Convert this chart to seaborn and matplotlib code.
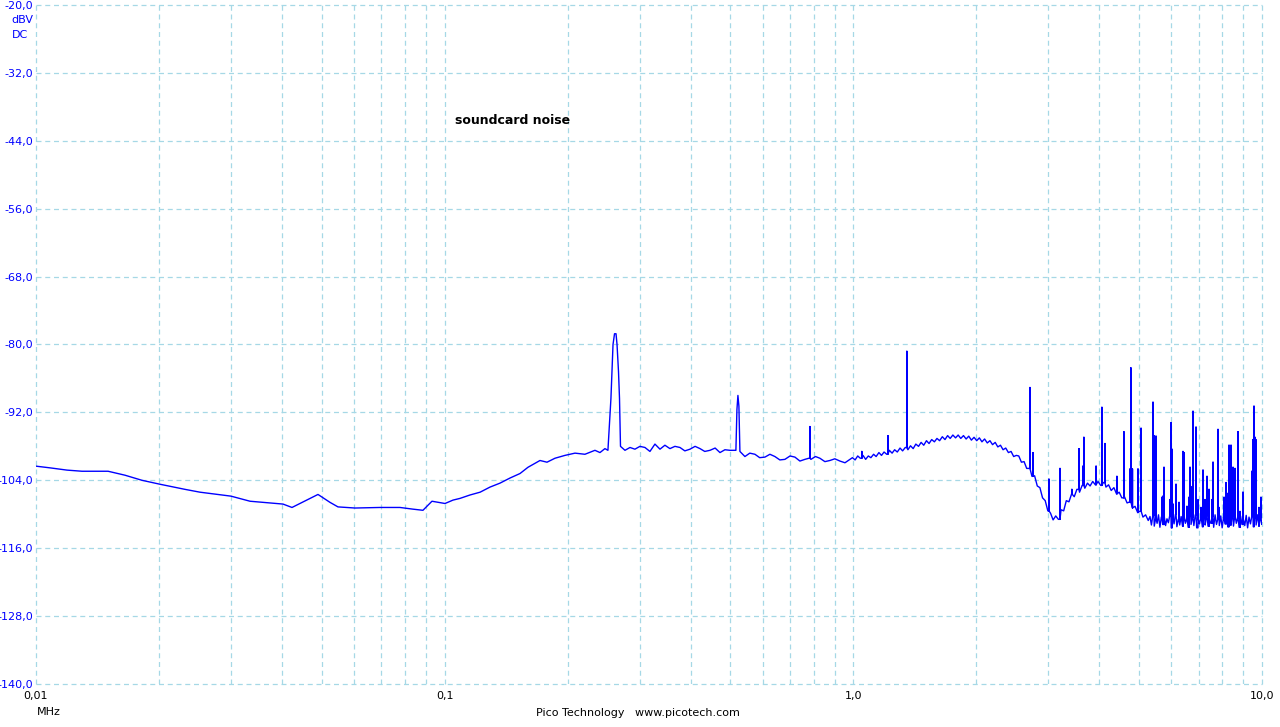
import numpy as np
import pandas as pd
import matplotlib
matplotlib.use("Agg")
import matplotlib.pyplot as plt
import seaborn as sns

# ---- data ----
# noise-floor trace, MHz / dBV
base_freq = [
    0.0100, 0.01082, 0.01191, 0.01296, 0.01501, 0.01651, 0.01817, 0.02012, 0.02315, 0.02519,
    0.0300, 0.0334, 0.04021, 0.04231, 0.04898, 0.05241, 0.05482, 0.06033, 0.06945, 0.07774,
    0.08366, 0.08849, 0.09309, 0.1002, 0.1048, 0.1090, 0.1153, 0.1221, 0.1291, 0.1366,
    0.1445, 0.1529, 0.1599, 0.1663, 0.1711, 0.1780, 0.1862, 0.1969, 0.2084, 0.2204,
    0.2332, 0.2399, 0.2467, 0.2509,
    0.2552, 0.2567, 0.2582, 0.2604, 0.2626, 0.2641, 0.2663, 0.2678, 0.2693,
    0.2762, 0.2841, 0.2921, 0.3005, 0.3091, 0.3179, 0.3270, 0.3364, 0.3459, 0.3558,
    0.3660, 0.3765, 0.3870, 0.3984, 0.4100, 0.4215, 0.4330, 0.4459, 0.4590, 0.4717,
    0.4850, 0.4991, 0.5160,
    0.5190, 0.5219, 0.5248, 0.5278,
    0.5429, 0.5580, 0.5744, 0.5900, 0.6077, 0.6250, 0.6428, 0.6610, 0.6801, 0.7000,
    0.7195, 0.7400, 0.7612, 0.7786, 0.7874, 0.8080, 0.8282, 0.8520, 0.8764, 0.9010,
    0.9273, 0.9540, 0.9811,
    0.995, 1.010, 1.025, 1.040, 1.056, 1.072, 1.088, 1.104, 1.121, 1.137, 1.155, 1.172,
    1.189, 1.207, 1.225, 1.244, 1.262, 1.281, 1.301, 1.320, 1.340, 1.360, 1.380, 1.401,
    1.422, 1.444, 1.465, 1.487, 1.510, 1.532, 1.555, 1.579, 1.602, 1.626, 1.651, 1.676,
    1.701, 1.726, 1.752, 1.779, 1.805, 1.832, 1.860, 1.888, 1.916, 1.945, 1.974, 2.004,
    2.034, 2.064, 2.095, 2.127, 2.159, 2.191, 2.224, 2.257, 2.291, 2.325, 2.360, 2.396,
    2.432, 2.468, 2.505,
    2.540, 2.578, 2.617, 2.656, 2.696, 2.736, 2.777, 2.819, 2.861, 2.904, 2.948, 2.992,
    3.037, 3.082, 3.128, 3.175, 3.223, 3.271, 3.320, 3.370, 3.421, 3.472, 3.524, 3.577,
    3.630, 3.685, 3.740, 3.796, 3.853, 3.911, 3.969, 4.029, 4.089, 4.151, 4.213, 4.276,
    4.341, 4.406, 4.472, 4.539, 4.607, 4.676, 4.746, 4.818, 4.890, 4.963, 5.038, 5.113,
    5.190, 5.268,
    5.320, 5.363, 5.406, 5.449, 5.493, 5.537, 5.581, 5.626, 5.671, 5.716, 5.762, 5.808,
    5.854, 5.901, 5.948, 5.996, 6.044, 6.092, 6.141, 6.190, 6.240, 6.290, 6.340, 6.391,
    6.442, 6.494, 6.546, 6.598, 6.651, 6.704, 6.758, 6.812, 6.866, 6.921, 6.977, 7.032,
    7.089, 7.146, 7.203, 7.260, 7.319, 7.377, 7.436, 7.496, 7.556, 7.616, 7.677, 7.738,
    7.800, 7.863, 7.926, 7.989, 8.053, 8.117, 8.182, 8.248, 8.314, 8.380, 8.447, 8.515,
    8.583, 8.652, 8.721, 8.791, 8.861, 8.932, 9.003, 9.075, 9.148, 9.221, 9.295, 9.369,
    9.444, 9.520, 9.596, 9.673, 9.750, 9.828, 9.907, 9.986, 10.0,
]
base_level = [
    -101.5, -101.8, -102.2, -102.4, -102.4, -103.1, -104.0, -104.7, -105.6, -106.1,
    -106.8, -107.7, -108.2, -108.8, -106.5, -107.9, -108.7, -108.9, -108.8, -108.8,
    -109.1, -109.3, -107.7, -108.1, -107.5, -107.2, -106.6, -106.1, -105.2, -104.5,
    -103.6, -102.8, -101.7, -101.0, -100.5, -100.8, -100.1, -99.6, -99.2, -99.4,
    -98.7, -99.1, -98.4, -98.7,
    -89.5, -84.8, -80.0, -78.1, -78.1, -80.0, -84.8, -89.5, -98.0,
    -98.7, -98.2, -98.5, -98.0, -98.2, -98.9, -97.6, -98.5, -97.8, -98.4,
    -98.0, -98.2, -98.8, -98.5, -98.0, -98.4, -98.9, -98.7, -98.3, -99.1,
    -98.6, -98.7, -98.7,
    -91.5, -89.0, -90.9, -98.9,
    -99.8, -99.2, -99.4, -100.0, -99.9, -99.4, -99.8, -100.4, -100.3, -99.7,
    -99.9, -100.6, -100.3, -100.1, -100.3, -99.8, -100.1, -100.7, -100.5, -100.2,
    -100.6, -100.9, -100.3,
    -100.0, -100.4, -99.7, -100.1, -99.6, -100.3, -99.7, -100.0, -99.4, -99.8, -99.1, -99.6,
    -99.0, -99.4, -98.7, -99.2, -98.6, -99.0, -98.3, -98.8, -98.2, -98.6, -97.9, -98.4,
    -97.6, -98.0, -97.3, -97.8, -97.0, -97.5, -96.8, -97.2, -96.6, -97.0, -96.3, -96.8,
    -96.1, -96.6, -96.0, -96.5, -96.0, -96.6, -96.1, -96.7, -96.2, -96.9, -96.4, -97.0,
    -96.5, -97.2, -96.7, -97.4, -97.0, -97.7, -97.3, -98.1, -97.8, -98.6, -98.3, -99.1,
    -98.9, -99.8, -99.6,
    -99.7, -100.8, -100.7, -101.9, -101.9, -103.3, -103.2, -105.0, -105.3, -107.1, -107.6, -109.4,
    -109.8, -111.0, -110.3, -110.9, -109.2, -109.4, -107.6, -107.8, -106.4, -106.9, -105.6, -106.1,
    -104.9, -105.4, -104.5, -105.0, -104.2, -104.8, -104.2, -104.9, -104.4, -105.2, -104.8, -105.8,
    -105.3, -106.4, -106.1, -107.1, -106.9, -108.0, -107.8, -108.9, -108.6, -109.7, -109.4, -110.5,
    -110.1, -111.1,
    -110.4, -111.9, -110.2, -112.1, -110.7, -111.6, -110.1, -112.3, -110.5, -111.8,
    -110.3, -112.0, -110.8, -111.5, -110.2, -112.4, -110.6, -111.7, -110.0, -112.2,
    -110.9, -111.9, -110.4, -112.1, -110.2, -111.6, -110.7, -112.3, -110.3, -111.8,
    -110.5, -112.0, -110.1, -112.4, -110.8, -111.7, -110.3, -112.2, -110.6, -111.9,
    -110.2, -112.1, -110.9, -111.6, -110.4, -112.3, -110.1, -111.8, -110.7, -112.0,
    -110.3, -112.4, -110.5, -111.7, -110.2, -112.2, -110.8, -111.9, -110.4, -112.1,
    -110.1, -111.6, -110.6, -112.3, -110.3, -111.8, -110.9, -112.0, -110.2, -112.4,
    -110.5, -111.7, -110.3, -112.2, -110.7, -111.9, -110.1, -112.1, -110.6, -111.8, -111.2,
]
# narrow spurs: frequency (MHz) and peak level (dBV)
spike_freq = [
    0.7830, 1.049, 1.215, 1.352, 2.705, 2.751, 3.011, 3.204, 3.426, 3.565, 3.646, 3.666,
    3.926, 4.058, 4.127, 4.416, 4.592, 4.753, 4.775, 4.820, 4.972, 5.058,
    5.411, 5.441, 5.503, 5.692, 5.725, 5.757, 5.954, 5.987, 6.020, 6.055, 6.160, 6.265,
    6.407, 6.444, 6.553, 6.628, 6.665, 6.703, 6.779, 6.895, 6.973, 7.092, 7.172, 7.253,
    7.336, 7.419, 7.545, 7.588, 7.805, 7.849, 8.074, 8.165, 8.257, 8.304, 8.398, 8.493,
    8.590, 8.736, 8.834, 8.985, 9.452, 9.506, 9.559, 9.613, 9.668, 9.832, 9.944,
]
spike_peak = [
    -94.5, -98.9, -96.1, -81.2, -87.6, -99.1, -103.8, -101.9, -105.6, -98.4, -101.5, -96.4,
    -101.5, -91.1, -97.5, -103.3, -95.4, -102.0, -84.1, -102.0, -102.0, -94.8,
    -90.2, -96.1, -96.2, -107.0, -106.8, -101.7, -107.4, -93.8, -98.5, -108.2, -104.7, -107.9,
    -98.9, -99.1, -108.6, -107.0, -101.7, -105.1, -91.8, -94.6, -107.4, -108.8, -102.2, -107.4,
    -103.3, -105.6, -107.4, -100.8, -95.0, -108.8, -107.0, -104.4, -106.3, -97.8, -97.8, -101.7,
    -101.9, -95.4, -109.5, -106.1, -102.4, -96.8, -90.9, -96.4, -96.8, -108.8, -107.0,
]

y_ticks = [-20, -32, -44, -56, -68, -80, -92, -104, -116, -128, -140]
x_ticks = [0.01, 0.1, 1.0, 10.0]
x_tick_labels = ["0,01", "0,1", "1,0", "10,0"]
x_minor = [m * d for d in (0.01, 0.1, 1.0) for m in range(2, 10)]

# ---- build the trace: baseline with spurs inserted as vertical strokes ----
bf = np.array(base_freq)
bl = np.array(base_level)
spk = {}
for f, p in sorted(zip(spike_freq, spike_peak)):
    idx = max(int(np.searchsorted(bf, f)) - 1, 0)
    spk.setdefault(idx, []).append((f, bl[idx], p))
seq = []
for i, (f, l) in enumerate(zip(bf, bl)):
    seq.append((f, l))
    for (sf, sb, sp) in spk.get(i, []):
        seq.append((sf, sb))
        seq.append((sf, sp))
        seq.append((sf, sb))
df = pd.DataFrame(seq, columns=["freq", "level"])

# ---- plot ----
sns.set_theme(style="white")
plt.rcParams["font.family"] = ["DejaVu Sans"]

fig = plt.figure(figsize=(12.8, 7.27), dpi=100)
ax = fig.add_axes([36 / 1280, 1 - 684 / 727, (1262 - 36) / 1280, (684 - 5) / 727])

grid_color = "#a6d8e6"
ax.set_xscale("log")
ax.set_xlim(0.01, 10)
ax.set_ylim(-140, -20)
ax.set_xticks(x_ticks)
ax.set_xticklabels(x_tick_labels)
ax.set_xticks(x_minor, minor=True)
ax.set_xticklabels([], minor=True)
ax.set_yticks(y_ticks)
ax.set_yticklabels([f"{v:.1f}".replace(".", ",") for v in y_ticks])
ax.tick_params(which="both", length=0)
ax.tick_params(axis="x", labelsize=8, colors="black", pad=5)
ax.tick_params(axis="y", labelsize=8, labelcolor="#0000ff", pad=2)
for s in ax.spines.values():
    s.set_visible(False)
ax.set_axisbelow(True)
ax.grid(True, which="both", axis="x", color=grid_color, linestyle=(0, (4, 3)), linewidth=0.9)
ax.grid(True, which="major", axis="y", color=grid_color, linestyle=(0, (4, 3)), linewidth=0.9)
for gl in ax.get_xgridlines() + ax.get_ygridlines():
    gl.set_clip_on(False)

sns.lineplot(data=df, x="freq", y="level", sort=False, estimator=None,
             color="#0000ff", linewidth=1.0, ax=ax)
ax.set_xlabel("")
ax.set_ylabel("")

ax.text(0.106, -40.5, "soundcard noise", fontsize=9, fontweight="bold",
        color="black", ha="left", va="center")

fig.text(22 / 1280, 1 - 20 / 727, "dBV", fontsize=8, color="#0000ff", ha="center", va="center")
fig.text(20 / 1280, 1 - 35 / 727, "DC", fontsize=8, color="#0000ff", ha="center", va="center")
fig.text(37 / 1280, 1 - 712 / 727, "MHz", fontsize=8, color="black", ha="left", va="center")
fig.text(638 / 1280, 1 - 713 / 727, "Pico Technology   www.picotech.com", fontsize=8,
         color="black", ha="center", va="center")

fig.savefig("out.png", dpi=100)
